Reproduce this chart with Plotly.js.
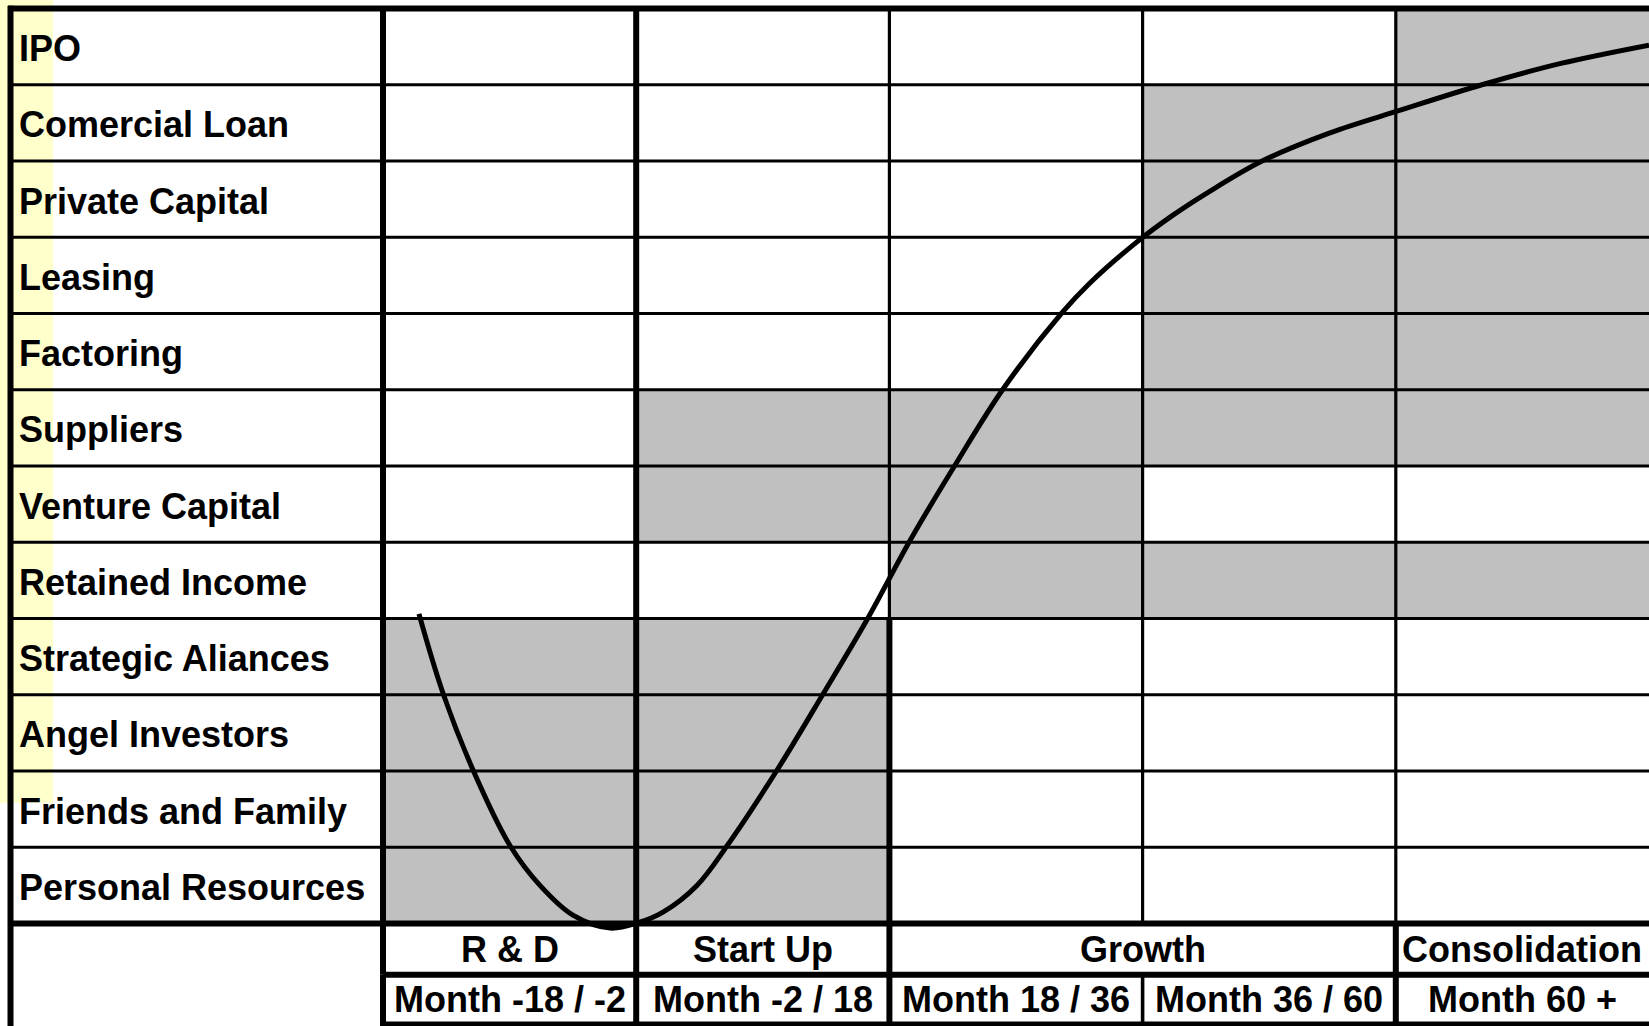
<!DOCTYPE html>
<html><head><meta charset="utf-8">
<script src="https://cdn.plot.ly/plotly-3.0.1.min.js"></script>
<style>html,body{margin:0;padding:0;background:#fff;overflow:hidden}#chart{width:1649px;height:1026px}</style>
</head><body><div id="chart"></div>
<script>
// ---------------- DATA ----------------
const sources = ['IPO','Comercial Loan','Private Capital','Leasing','Factoring','Suppliers',
  'Venture Capital','Retained Income','Strategic Aliances','Angel Investors','Friends and Family','Personal Resources'];
const phases = ['R & D','Start Up','Growth','Consolidation'];
const phaseSpans = [1, 1, 2, 1];
const periods = ['Month -18 / -2','Month -2 / 18','Month 18 / 36','Month 36 / 60','Month 60 +'];
// 1 = financing source used in that period (gray cell)
const shaded = [
  [0,0,0,0,1],
  [0,0,0,1,1],
  [0,0,0,1,1],
  [0,0,0,1,1],
  [0,0,0,1,1],
  [0,1,1,1,1],
  [0,1,1,0,0],
  [0,0,1,1,1],
  [1,1,0,0,0],
  [1,1,0,0,0],
  [1,1,0,0,0],
  [1,1,0,0,0]
];
// growth curve, x in period columns, y in source rows (0 = top)
const curveX = [0.142,0.237,0.356,0.502,0.620,0.750,0.897,1.007,1.106,1.240,1.359,1.556,1.738,1.916,2.081,2.259,2.449,2.682,2.792,2.978,3.120,3.254,3.472,3.740,4.021,4.340,4.652,5.0];
const curveY = [7.94,8.98,9.99,10.98,11.50,11.89,12.06,11.99,11.85,11.50,10.98,9.99,8.99,7.99,6.98,5.99,4.99,3.99,3.60,3.06,2.71,2.42,2.00,1.63,1.33,1.00,0.72,0.48];

// ---------------- LAYOUT CONSTANTS ----------------
const W = 1649, H = 1026;
const COL_PX = 253.2, COL0 = 383;   // pixel of period boundary 0
const ROW_PX = 76.25, ROW0 = 8.5;   // pixel of row boundary 0
const XMIN = -COL0 / COL_PX, XMAX = (W - COL0) / COL_PX;
const YMIN = -ROW0 / ROW_PX, YMAX = (H - ROW0) / ROW_PX;
const LABEL_LEFT = (10.5 - COL0) / COL_PX;
const LABEL_TEXT_X = (16.5 - COL0) / COL_PX;
const PHASE_H = 51.2 / ROW_PX, MONTH_H = 49.8 / ROW_PX;

const nRows = sources.length, nCols = periods.length;
const phaseTop = nRows, monthTop = nRows + PHASE_H, monthBottom = monthTop + MONTH_H;

// phase boundaries (in period columns)
const phaseEdges = [0];
phaseSpans.forEach(s => phaseEdges.push(phaseEdges[phaseEdges.length - 1] + s));

// ---------------- TRACES ----------------
const traces = [];
traces.push({
  type: 'heatmap',
  z: shaded,
  x: periods.map((_, i) => i + 0.5),
  y: sources.map((_, i) => i + 0.5),
  colorscale: [[0, '#ffffff'], [1, '#c0c0c0']],
  zmin: 0, zmax: 1, showscale: false, hoverinfo: 'skip', xgap: 0, ygap: 0
});

function lineTrace(segs, width) {
  const x = [], y = [];
  segs.forEach(s => { x.push(s[0], s[2], null); y.push(s[1], s[3], null); });
  return { type: 'scatter', mode: 'lines', x, y, line: { color: '#000', width }, hoverinfo: 'skip', showlegend: false };
}
const thin = [], mid = [], thick = [];
for (let k = 1; k < nRows; k++) thin.push([LABEL_LEFT, k, XMAX, k]);
thick.push([LABEL_LEFT - 0.01, 0, XMAX, 0]);
thick.push([LABEL_LEFT - 0.01, nRows, XMAX, nRows]);
thick.push([0, monthTop, XMAX, monthTop]);
thick.push([0, monthBottom, XMAX, monthBottom]);
thick.push([LABEL_LEFT, -0.035, LABEL_LEFT, YMAX]);
for (let c = 0; c < nCols; c++) {
  if (c <= 1) thick.push([c, 0, c, nRows]);
  else if (c === 2) { thin.push([c, 0, c, 8]); thick.push([c, 8, c, nRows]); }
  else thin.push([c, 0, c, nRows]);
  if (phaseEdges.includes(c)) thick.push([c, phaseTop, c, monthTop]);
  if (phaseEdges.includes(c)) thick.push([c, monthTop, c, YMAX]);
  else mid.push([c, monthTop, c, YMAX]);
}
traces.push(lineTrace(thin, 3.2));
traces.push(lineTrace(mid, 3.6));
traces.push(lineTrace(thick, 6));

traces.push({
  type: 'scatter', mode: 'lines', x: curveX, y: curveY,
  line: { color: '#000', width: 5, shape: 'spline', smoothing: 1 },
  hoverinfo: 'skip', showlegend: false
});

// ---------------- ANNOTATIONS ----------------
const labelFont = { family: 'Liberation Sans, Arial, sans-serif', size: 36, color: '#000', weight: 'bold' };
const footFont = { family: 'Liberation Sans, Arial, sans-serif', size: 36, color: '#000', weight: 'bold' };
const annotations = [];
sources.forEach((s, i) => annotations.push({
  text: s, x: LABEL_TEXT_X, y: i + 0.5, xref: 'x', yref: 'y', xanchor: 'left', yanchor: 'middle',
  yshift: -2, showarrow: false, font: labelFont
}));
phases.forEach((p, i) => annotations.push({
  text: p, x: (phaseEdges[i] + phaseEdges[i + 1]) / 2, y: (phaseTop + monthTop) / 2,
  xref: 'x', yref: 'y', xanchor: 'center', yanchor: 'middle', showarrow: false, font: footFont
}));
periods.forEach((p, i) => annotations.push({
  text: p, x: i + 0.5, y: (monthTop + monthBottom) / 2,
  xref: 'x', yref: 'y', xanchor: 'center', yanchor: 'middle', showarrow: false, font: footFont
}));

const layout = {
  width: W, height: H,
  margin: { l: 0, r: 0, t: 0, b: 0, pad: 0 },
  paper_bgcolor: '#ffffff', plot_bgcolor: '#ffffff',
  showlegend: false,
  xaxis: { range: [XMIN, XMAX], visible: false, fixedrange: true },
  yaxis: { range: [YMAX, YMIN], visible: false, fixedrange: true },
  shapes: [{
    type: 'rect', xref: 'paper', yref: 'paper', layer: 'below',
    x0: 0, x1: 53 / W, y0: 1 - 803 / H, y1: 1,
    fillcolor: '#ffffcc', line: { width: 0 }
  }],
  annotations
};

Plotly.newPlot('chart', traces, layout, { staticPlot: true, displayModeBar: false });
</script>
</body></html>
